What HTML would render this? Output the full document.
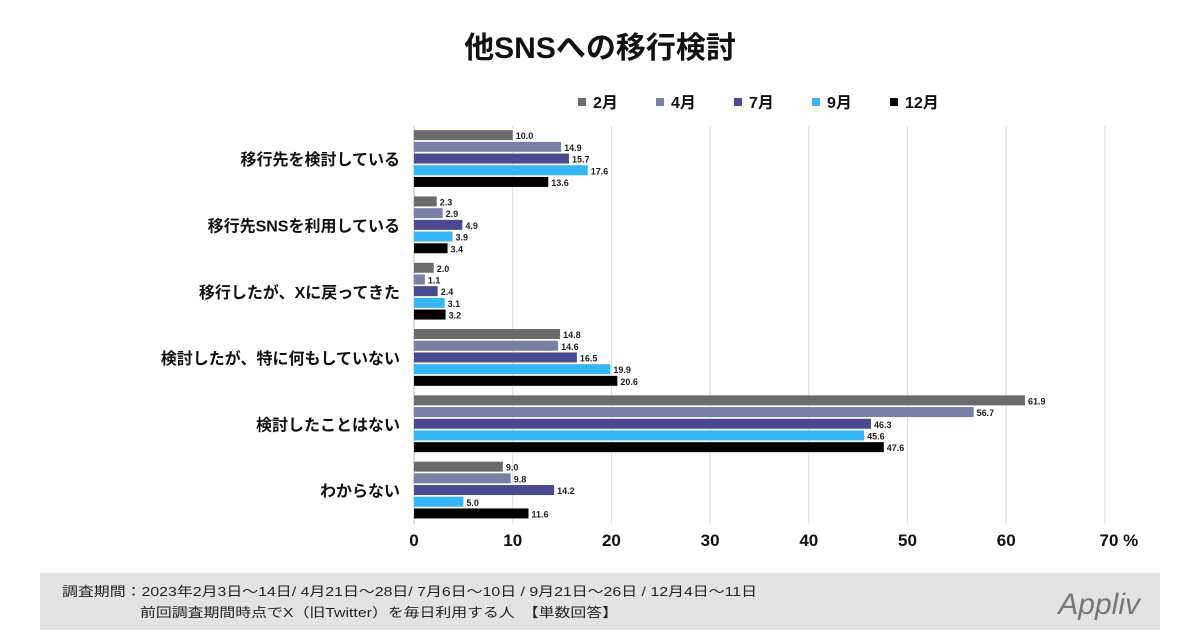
<!DOCTYPE html>
<html><head><meta charset="utf-8"><style>
body{margin:0;width:1200px;height:630px;background:#fff;overflow:hidden;font-family:"Liberation Sans","Noto Sans CJK JP",sans-serif}
svg text{font-family:"Liberation Sans","Noto Sans CJK JP",sans-serif}
</style></head><body>
<svg id="chart" width="1200" height="630">
<text x="600" y="58" text-anchor="middle" font-size="30" font-weight="bold" fill="#111">他SNSへの移行検討</text>
<rect x="40" y="573" width="1120" height="57" fill="#e3e3e3"/>
<text x="62" y="596" font-size="13" fill="#222" textLength="695" lengthAdjust="spacingAndGlyphs">調査期間：2023年2月3日〜14日/ 4月21日〜28日/ 7月6日〜10日 / 9月21日〜26日 / 12月4日〜11日</text>
<text x="140" y="617" font-size="13" fill="#222" textLength="478" lengthAdjust="spacingAndGlyphs">前回調査期間時点でX（旧Twitter）を毎日利用する人　【単数回答】</text>
<text x="1140" y="614" text-anchor="end" font-size="30" font-style="italic" font-family="Liberation Serif, serif" fill="#777">Appliv</text>
<g id="grid"></g><g id="bars"></g><g id="legend"></g>
</svg>
<script>
const categories=["移行先を検討している","移行先SNSを利用している","移行したが、Xに戻ってきた","検討したが、特に何もしていない","検討したことはない","わからない"];
const seriesNames=["2月","4月","7月","9月","12月"];
const feb=[10.0,2.3,2.0,14.8,61.9,9.0];
const apr=[14.9,2.9,1.1,14.6,56.7,9.8];
const jul=[15.7,4.9,2.4,16.5,46.3,14.2];
const sep=[17.6,3.9,3.1,19.9,45.6,5.0];
const dec=[13.6,3.4,3.2,20.6,47.6,11.6];
const ticks=[0,10,20,30,40,50,60,70];
(function(){
const series=[feb,apr,jul,sep,dec];
const colors=["#6b6b6b","#7a7fa6","#4b4a90","#35b6f6","#000"];
const NS="http://www.w3.org/2000/svg";
const x0=414,sc=9.87,topY=126,gh=66.3;
const X=v=>x0+v*sc;
function mk(tag,at,p){const e=document.createElementNS(NS,tag);for(const k in at)e.setAttribute(k,at[k]);p.appendChild(e);return e;}
const grid=document.getElementById('grid'),bars=document.getElementById('bars'),leg=document.getElementById('legend');
ticks.forEach((t,i)=>{
 if(t>0){const l=mk('line',{x1:X(t),x2:X(t),y1:126,y2:524,stroke:'#ddd','stroke-width':1},grid);
 
 }
 const tx=mk('text',{x:X(t)+(t==70?14:0),y:546,'text-anchor':'middle','font-size':17,'font-weight':'bold',fill:'#111'},grid);
 tx.textContent=t==70?"70 %":String(t);
 
 
});
const ax=mk('line',{x1:x0,x2:x0,y1:126,y2:524,stroke:'#bbb','stroke-width':1},grid);


categories.forEach((c,i)=>{
 const cy=topY+gh*(i+0.5);
 const lb=mk('text',{x:400,y:cy+6,'text-anchor':'end','font-size':16,'font-weight':'bold',fill:'#111'},bars);
 lb.textContent=c;
 
 
 series.forEach((s,j)=>{
  const y=cy-29+j*11.7;
  const r=mk('rect',{x:x0,y:y,width:s[i]*sc,height:10,fill:colors[j]},bars);
  
  
  const v=mk('text',{x:X(s[i])+3,y:y+9,'font-size':9,'font-weight':'bold',fill:'#222'},bars);
  v.textContent=s[i].toFixed(1);
  
  
 });
});
const lx=[578,656,734,812,890];
seriesNames.forEach((n,j)=>{
 const r=mk('rect',{x:lx[j],y:98,width:8,height:8,fill:colors[j]},leg);
 
 
 const t=mk('text',{x:lx[j]+15,y:108,'font-size':16,'font-weight':'bold',fill:'#111'},leg);
 t.textContent=n;
 
 
});
})();
</script>
</body></html>
